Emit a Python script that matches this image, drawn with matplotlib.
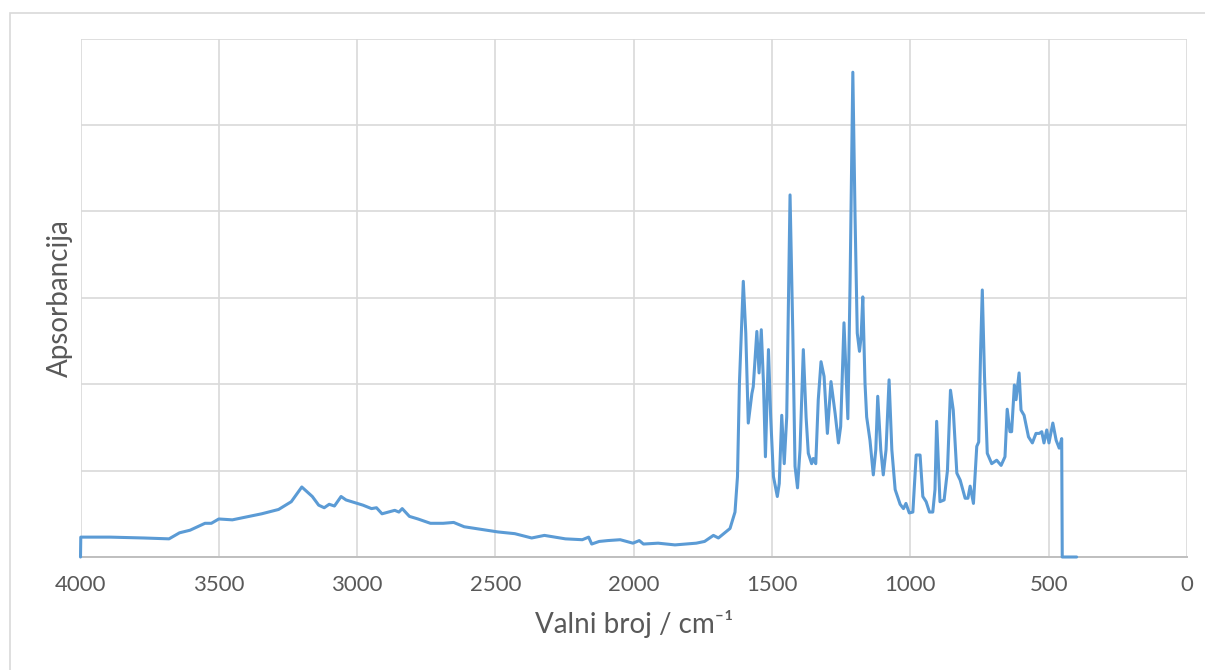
import matplotlib
matplotlib.use("Agg")
import matplotlib.pyplot as plt
from matplotlib.patches import Rectangle

plt.rcParams["font.family"] = ["Lato", "DejaVu Sans"]

# IR spectrum (wavenumber in cm-1, absorbance in grid units)
wavenumber = [
    4000, 3999, 3893, 3771, 3680, 3642, 3604, 3550, 3527, 3500, 3451, 3421, 3345, 3284,
    3238, 3200, 3162, 3139, 3119, 3101, 3082, 3058, 3040, 3009, 2979, 2948, 2930, 2910,
    2887, 2864, 2849, 2837, 2811, 2780, 2735, 2689, 2651, 2613, 2552, 2491, 2430, 2369,
    2323, 2285, 2247, 2186, 2163, 2152, 2125, 2094, 2049, 2003, 1980, 1965, 1912, 1851,
    1774, 1744, 1712, 1694, 1652, 1634, 1625, 1618, 1604, 1595, 1586, 1573, 1568, 1555,
    1547, 1539, 1531, 1524, 1513, 1505, 1495, 1481, 1474, 1465, 1456, 1447, 1435, 1425,
    1417, 1408, 1399, 1387, 1377, 1369, 1357, 1351, 1342, 1333, 1323, 1312, 1300, 1287,
    1272, 1260, 1252, 1240, 1226, 1218, 1208, 1200, 1192, 1184, 1178, 1172, 1164, 1158,
    1146, 1134, 1125, 1118, 1107, 1098, 1088, 1077, 1067, 1055, 1037, 1025, 1016, 1004,
    991, 979, 965, 955, 943, 931, 919, 911, 905, 893, 878, 866, 855, 845, 832, 820, 802,
    792, 784, 772, 760, 753, 746, 740, 732, 722, 706, 688, 672, 658, 650, 640, 634, 624,
    618, 607, 600, 589, 573, 559, 546, 534, 525, 517, 507, 499, 485, 473, 462, 453, 451,
    399,
]
absorbance = [
    0.0, 0.23, 0.23, 0.22, 0.21, 0.28, 0.31, 0.39, 0.39, 0.44, 0.43, 0.45, 0.50, 0.55,
    0.64, 0.81, 0.70, 0.60, 0.57, 0.61, 0.59, 0.70, 0.66, 0.63, 0.60, 0.56, 0.57, 0.50,
    0.52, 0.54, 0.52, 0.56, 0.47, 0.44, 0.39, 0.39, 0.40, 0.35, 0.32, 0.29, 0.27, 0.22,
    0.25, 0.23, 0.21, 0.20, 0.23, 0.15, 0.18, 0.19, 0.20, 0.16, 0.19, 0.15, 0.16, 0.14,
    0.16, 0.18, 0.25, 0.22, 0.33, 0.52, 0.93, 2.01, 3.19, 2.59, 1.55, 1.89, 1.97, 2.61,
    2.13, 2.63, 2.01, 1.16, 2.40, 1.62, 0.93, 0.70, 0.85, 1.64, 1.08, 1.62, 4.19, 2.59,
    1.05, 0.80, 1.24, 2.40, 1.62, 1.20, 1.08, 1.14, 1.08, 1.82, 2.26, 2.09, 1.43, 2.03,
    1.66, 1.32, 1.51, 2.71, 1.60, 3.17, 5.61, 3.94, 2.59, 2.38, 2.55, 3.01, 2.01, 1.62,
    1.35, 0.95, 1.24, 1.86, 1.24, 0.95, 1.24, 2.05, 1.24, 0.78, 0.61, 0.56, 0.62, 0.51,
    0.52, 1.18, 1.18, 0.70, 0.64, 0.52, 0.52, 0.78, 1.57, 0.64, 0.66, 1.00, 1.93, 1.70,
    0.97, 0.89, 0.68, 0.68, 0.82, 0.62, 1.28, 1.33, 2.40, 3.09, 2.09, 1.20, 1.08, 1.12,
    1.06, 1.16, 1.71, 1.45, 1.45, 1.99, 1.82, 2.13, 1.70, 1.64, 1.39, 1.32, 1.43, 1.43,
    1.45, 1.32, 1.47, 1.32, 1.55, 1.35, 1.26, 1.37, 0.0, 0.0,
]
x_ticks = [4000, 3500, 3000, 2500, 2000, 1500, 1000, 500, 0]

fig = plt.figure(figsize=(12.05, 6.7), dpi=100)
ax = fig.add_axes([80.5 / 1205, 1 - 557 / 670, 1106.5 / 1205, 518.5 / 670])

# outer chart frame (cut off by the picture edge on right and bottom)
fig.patches.append(Rectangle((10 / 1205, -0.2), 2, 1.2 - 13 / 670, transform=fig.transFigure,
                             fill=False, edgecolor="#D9D9D9", linewidth=1.2))

ax.plot(wavenumber, absorbance, color="#5B9BD5", linewidth=2.2,
        solid_joinstyle="round", solid_capstyle="round", zorder=3, clip_on=False)

ax.set_xlim(4000, 0)
ax.set_ylim(0, 6)
ax.set_xticks(x_ticks)
ax.set_xticklabels([str(t) for t in x_ticks])
ax.set_yticks(range(0, 7))
ax.set_yticklabels([])
ax.grid(True, color="#D9D9D9", linewidth=1.2)
ax.set_axisbelow(True)
for side in ["top", "left", "right"]:
    ax.spines[side].set_visible(False)
ax.spines["bottom"].set_color("#BFBFBF")
ax.spines["bottom"].set_linewidth(1.4)
ax.spines["bottom"].set_zorder(2)
ax.tick_params(axis="both", length=0)
ax.tick_params(axis="x", labelsize=16, labelcolor="#595959", pad=13)

ax.set_xlabel("Valni broj / cm\u207b\u00b9", fontsize=20, color="#595959", va="baseline")
ax.xaxis.set_label_coords(0.5, -0.1466)
ax.set_ylabel("Apsorbancija", fontsize=20, color="#595959", va="center")
ax.yaxis.set_label_coords(-0.0185, 0.5)

fig.savefig("out.png", dpi=100)
